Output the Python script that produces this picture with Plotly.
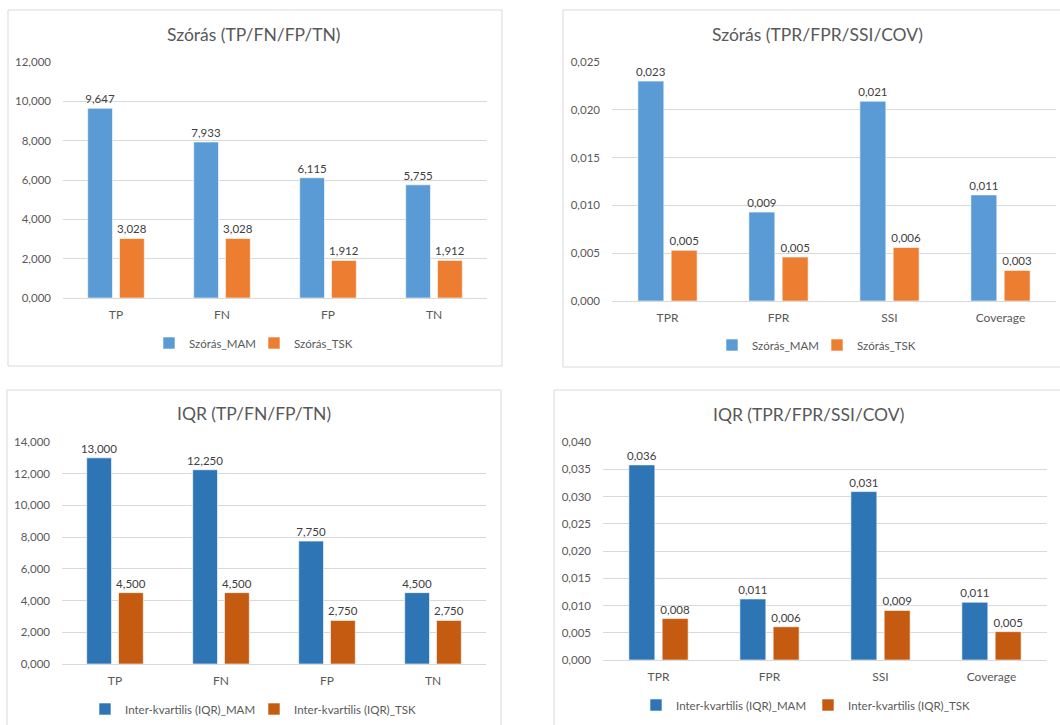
import plotly.graph_objects as go

W, H = 1060, 725

# ---- data ----
cats_counts = ["TP", "FN", "FP", "TN"]
cats_rates = ["TPR", "FPR", "SSI", "Coverage"]

szoras_mam_counts = [9.647, 7.933, 6.115, 5.755]
szoras_tsk_counts = [3.028, 3.028, 1.912, 1.912]

szoras_mam_rates = [0.0230, 0.0093, 0.0209, 0.0111]
szoras_tsk_rates = [0.0053, 0.0046, 0.0056, 0.0032]

iqr_mam_counts = [13.000, 12.250, 7.750, 4.500]
iqr_tsk_counts = [4.500, 4.500, 2.750, 2.750]

iqr_mam_rates = [0.0358, 0.0112, 0.0309, 0.0106]
iqr_tsk_rates = [0.0076, 0.0061, 0.0091, 0.0052]

# ---- styling ----
FONT = "Lato, Carlito, Calibri, sans-serif"
TXT = "#595959"
LBL = "#404040"
GRID = "#D9D9D9"
BLUE_LIGHT, ORANGE_LIGHT = "#5B9BD5", "#ED7D31"
BLUE_DARK, ORANGE_DARK = "#2E75B6", "#C55A11"


def px_x(v):
    return v / W


def px_y(v):
    return 1 - v / H


panels = [
    dict(n="", cats=cats_counts, mam=szoras_mam_counts, tsk=szoras_tsk_counts,
         names=("Szórás_MAM", "Szórás_TSK"), colors=(BLUE_LIGHT, ORANGE_LIGHT),
         title="Szórás (TP/FN/FP/TN)", title_xy=(254, 34),
         box=(8, 10, 502, 366), area=(63, 62, 487, 298),
         yr=12, dt=2, leg=(254, 343), entry=60, legname="legend"),
    dict(n="2", cats=cats_rates, mam=szoras_mam_rates, tsk=szoras_tsk_rates,
         names=("Szórás_MAM", "Szórás_TSK"), colors=(BLUE_LIGHT, ORANGE_LIGHT),
         title="Szórás (TPR/FPR/SSI/COV)", title_xy=(817, 34),
         box=(563, 10, 1070, 367), area=(612, 62, 1056, 301),
         yr=0.025, dt=0.005, leg=(817, 345), entry=60, legname="legend2"),
    dict(n="3", cats=cats_counts, mam=iqr_mam_counts, tsk=iqr_tsk_counts,
         names=("Inter-kvartilis (IQR)_MAM", "Inter-kvartilis (IQR)_TSK"), colors=(BLUE_DARK, ORANGE_DARK),
         title="IQR (TP/FN/FP/TN)", title_xy=(254, 413),
         box=(7, 390, 501, 740), area=(62, 442, 486, 664),
         yr=14, dt=2, leg=(254, 709), entry=124, legname="legend3"),
    dict(n="4", cats=cats_rates, mam=iqr_mam_rates, tsk=iqr_tsk_rates,
         names=("Inter-kvartilis (IQR)_MAM", "Inter-kvartilis (IQR)_TSK"), colors=(BLUE_DARK, ORANGE_DARK),
         title="IQR (TPR/FPR/SSI/COV)", title_xy=(808, 414),
         box=(554, 390, 1070, 740), area=(603, 442, 1047, 660),
         yr=0.040, dt=0.005, leg=(808, 705), entry=127, legname="legend4"),
]

fig = go.Figure()
layout = dict(
    width=W, height=H,
    margin=dict(l=0, r=0, t=0, b=0, pad=0, autoexpand=False),
    paper_bgcolor="white", plot_bgcolor="white",
    separators=",.",
    barmode="group", bargap=0.40, bargroupgap=0.22,
    font=dict(family=FONT, color=TXT, size=11),
    showlegend=True,
    shapes=[], annotations=[],
)

for p in panels:
    xa, ya = "x" + p["n"], "y" + p["n"]
    for vals, name, col in zip((p["mam"], p["tsk"]), p["names"], p["colors"]):
        fig.add_trace(go.Bar(
            x=p["cats"], y=vals, name=name, xaxis=xa, yaxis=ya,
            marker=dict(color=col, line=dict(color="white", width=0.6)),
            texttemplate="%{y:.3f}", textposition="outside", textangle=0,
            constraintext="none",
            textfont=dict(family=FONT, size=11.5, color=LBL),
            cliponaxis=False, legend=p["legname"], hoverinfo="skip",
        ))
    x0, y0, x1, y1 = p["area"]
    layout["xaxis" + p["n"]] = dict(
        domain=[px_x(x0), px_x(x1)], anchor=ya, showgrid=False, automargin=False,
        showline=True, linecolor=GRID, linewidth=1, ticks="", ticklabelstandoff=6,
        tickfont=dict(family=FONT, size=12, color=TXT), fixedrange=True,
    )
    layout["yaxis" + p["n"]] = dict(
        domain=[px_y(y1), px_y(y0)], anchor=xa, range=[0, p["yr"]], dtick=p["dt"],
        tickformat=".3f", showgrid=True, gridcolor=GRID, gridwidth=1, automargin=False,
        zeroline=False, showline=False, ticks="", ticklabelstandoff=11,
        tickfont=dict(family=FONT, size=11.5, color=TXT), fixedrange=True,
    )
    lx, ly = p["leg"]
    layout[p["legname"]] = dict(
        orientation="h", x=px_x(lx), y=px_y(ly), xanchor="center", yanchor="middle",
        font=dict(family=FONT, size=11.5, color=TXT), itemwidth=30,
        entrywidth=p["entry"], entrywidthmode="pixels",
        bgcolor="rgba(0,0,0,0)", traceorder="normal",
    )
    bx0, by0, bx1, by1 = p["box"]
    layout["shapes"].append(dict(
        type="rect", xref="paper", yref="paper",
        x0=px_x(bx0), x1=px_x(bx1), y0=px_y(by1), y1=px_y(by0),
        line=dict(color=GRID, width=1), fillcolor="rgba(0,0,0,0)", layer="below",
    ))
    tx, ty = p["title_xy"]
    layout["annotations"].append(dict(
        text=p["title"], xref="paper", yref="paper", x=px_x(tx), y=px_y(ty),
        xanchor="center", yanchor="middle", showarrow=False,
        font=dict(family=FONT, size=17.5, color=TXT),
    ))

fig.update_layout(**layout)
fig.write_html("out.html")
